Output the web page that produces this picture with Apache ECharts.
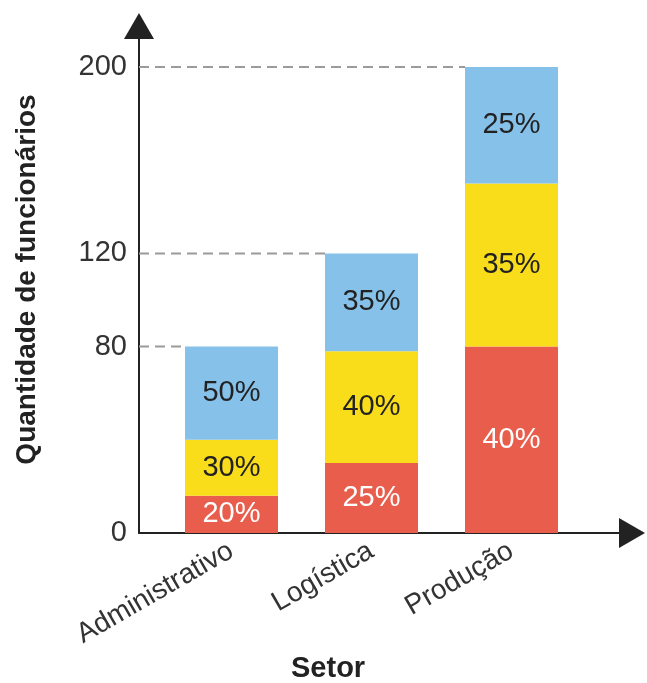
<!DOCTYPE html>
<html>
<head>
<meta charset="utf-8">
<script src="https://cdn.jsdelivr.net/npm/echarts@6/dist/echarts.min.js"></script>
<style>html,body{margin:0;padding:0;background:#fff}#c{width:647px;height:683px}</style>
</head>
<body>
<div id="c"></div>
<script>
// ---- data ----
const categories = ['Administrativo', 'Logística', 'Produção'];
const redValues = [16, 30, 80];
const yellowValues = [24, 48, 70];
const blueValues = [40, 42, 50];
const yTickValues = [0, 80, 120, 200];
const xAxisName = 'Setor';
const yAxisName = 'Quantidade de funcionários';

const totals = categories.map((_, i) => redValues[i] + yellowValues[i] + blueValues[i]);

const FONT = "'Liberation Sans', Arial, Helvetica, sans-serif";
const BAR_W = 93;
const Y_OFFSET = 22.5;

const chart = echarts.init(document.getElementById('c'));

function pctLabel(color) {
  return {
    show: true,
    position: 'inside',
    fontFamily: FONT,
    fontSize: 29,
    color: color,
    formatter: p => Math.round(p.value / totals[p.dataIndex] * 100) + '%'
  };
}

const option = {
  animation: false,
  backgroundColor: '#fff',
  title: {
    text: xAxisName,
    left: 291, top: 654, padding: 0,
    textStyle: { fontFamily: FONT, fontSize: 29, fontWeight: 'bold', color: '#222' }
  },
  grid: [
    { left: 161.5, width: 420, top: 26, bottom: 150 },
    { left: 139, right: 15, top: 26, bottom: 150 }
  ],
  xAxis: [
    {
      type: 'category', gridIndex: 0, data: categories,
      axisLine: { show: false }, axisTick: { show: false },
      axisLabel: { rotate: 30, margin: 16, fontFamily: FONT, fontSize: 28, color: '#333' }
    },
    {
      type: 'value', gridIndex: 1, min: 0, max: 1,
      axisLine: { show: true, symbol: ['none', 'triangle'], symbolSize: [30, 26],
        lineStyle: { color: '#222', width: 2 } },
      axisTick: { show: false }, axisLabel: { show: false }, splitLine: { show: false }
    }
  ],
  yAxis: [
    {
      type: 'value', gridIndex: 0, min: 0, max: 217.6, offset: Y_OFFSET,
      name: yAxisName, nameLocation: 'middle', nameGap: 98,
      nameTextStyle: { fontFamily: FONT, fontSize: 28, fontWeight: 'bold', color: '#222' },
      axisLine: { show: true, symbol: ['none', 'triangle'], symbolSize: [30, 26],
        lineStyle: { color: '#222', width: 2 } },
      axisTick: { show: false },
      axisLabel: { customValues: yTickValues, margin: 12, fontFamily: FONT, fontSize: 29, color: '#333' },
      splitLine: { show: false }
    },
    { type: 'value', gridIndex: 1, min: 0, max: 1, show: false }
  ],
  series: [
    {
      type: 'custom', xAxisIndex: 0, yAxisIndex: 0, z: 1, silent: true,
      data: totals.map((t, i) => [i, t]),
      renderItem: function (params, api) {
        const pt = api.coord([api.value(0), api.value(1)]);
        const x0 = params.coordSys.x - Y_OFFSET;
        return {
          type: 'line',
          shape: { x1: x0, y1: pt[1], x2: pt[0] - BAR_W / 2, y2: pt[1] },
          style: { stroke: '#9a9a9a', lineWidth: 2, lineDash: [10, 6] }
        };
      }
    },
    { type: 'bar', stack: 's', xAxisIndex: 0, yAxisIndex: 0, barWidth: BAR_W, z: 2,
      data: redValues, itemStyle: { color: '#E95D4C' }, label: pctLabel('#ffffff') },
    { type: 'bar', stack: 's', xAxisIndex: 0, yAxisIndex: 0, barWidth: BAR_W, z: 2,
      data: yellowValues, itemStyle: { color: '#F9DC1A' }, label: pctLabel('#222222') },
    { type: 'bar', stack: 's', xAxisIndex: 0, yAxisIndex: 0, barWidth: BAR_W, z: 2,
      data: blueValues, itemStyle: { color: '#86C1EA' }, label: pctLabel('#222222') }
  ]
};
chart.setOption(option);
</script>
</body>
</html>
